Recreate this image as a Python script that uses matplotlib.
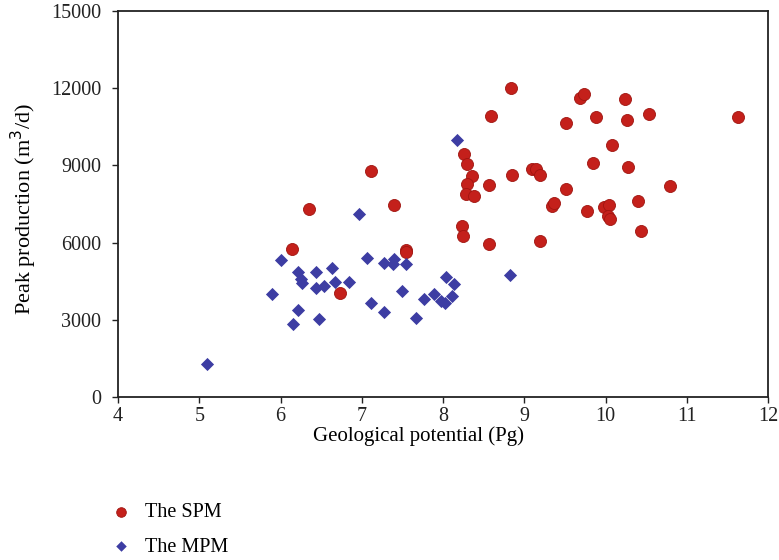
import matplotlib
matplotlib.use("Agg")
import matplotlib.pyplot as plt

# The SPM (red circles)
spm_x = [6.35, 7.40, 6.14, 7.54, 7.54, 6.73, 7.11,
         8.84, 8.59, 9.69, 9.74, 10.24, 9.51, 9.88, 10.26, 10.53, 11.63,
         10.08, 8.26, 8.29, 9.84, 10.28, 8.36, 8.30, 8.28, 8.38, 8.56,
         8.85, 9.10, 9.14, 9.19, 9.51, 10.79, 9.34, 9.36, 9.77, 9.98,
         10.04, 10.03, 10.05, 10.40, 10.44, 8.23, 8.25, 8.56, 9.19]
spm_y = [7306, 7461, 5739, 5712, 5620, 4041, 8782,
         12008, 10908, 11619, 11775, 11580, 10636, 10869, 10778, 11008, 10881,
         9780, 9431, 9054, 9081, 8951, 8588, 8265, 7877, 7811, 8226,
         8614, 8860, 8860, 8614, 8067, 8211, 7422, 7551, 7241, 7395,
         7461, 7046, 6918, 7628, 6463, 6657, 6269, 5934, 6062]

# The MPM (blue diamonds)
mpm_x = [6.97, 6.01, 7.07, 7.27, 7.40, 7.39, 7.54, 6.21, 6.44, 6.63,
         6.25, 6.27, 6.44, 6.53, 6.67, 6.84, 5.89, 7.50, 8.04, 8.14,
         8.11, 7.89, 7.76, 7.97, 8.02, 7.11, 6.22, 7.27, 6.47, 6.15,
         7.67, 5.09, 8.17, 8.82]
mpm_y = [7100, 5336, 5414, 5195, 5349, 5180, 5156, 4870, 4846, 5000,
         4574, 4418, 4249, 4326, 4482, 4482, 4003, 4119, 4676, 4391,
         3937, 3991, 3797, 3731, 3653, 3641, 3393, 3303, 3031, 2849,
         3082, 1271, 9987, 4729]

x_ticks = [4, 5, 6, 7, 8, 9, 10, 11, 12]
y_ticks = [0, 3000, 6000, 9000, 12000, 15000]

plt.rcParams['font.family'] = ['Liberation Serif', 'DejaVu Serif']

fig = plt.figure(figsize=(7.79, 5.60), dpi=100)
ax = fig.add_axes([118/779, 1-397/560, (768-118)/779, (397-11)/560])

ax.scatter(spm_x, spm_y, s=75, marker='o', color='#c4201b',
           edgecolors='#a01510', linewidths=0.6, label='The SPM', zorder=3)
ax.scatter(mpm_x, mpm_y, s=45, marker='D', color='#3d3da3',
           edgecolors='#3d3da3', linewidths=0, label='The MPM', zorder=3)

ax.set_xlim(4, 12)
ax.set_ylim(0, 15000)
ax.set_xticks(x_ticks)
ax.set_yticks(y_ticks)
ax.tick_params(direction='out', length=4, width=1, labelsize=14.5, colors='#222222')
ax.tick_params(axis='y', pad=8)
ax.tick_params(axis='x', pad=3)
for sp in ax.spines.values():
    sp.set_linewidth(1.3)
    sp.set_color('#222222')

ax.set_xlabel('Geological potential (Pg)', fontsize=15, labelpad=0.5)
ax.xaxis.label.set_x(0.463)
ax.set_ylabel('Peak production (m$^3$/d)', fontsize=16, labelpad=9)
ax.yaxis.label.set_y(0.487)

fig.legend(loc='upper left', bbox_to_anchor=(0.130, 0.1014), frameon=False,
           fontsize=14.5, labelspacing=0.75, handletextpad=0.15,
           markerscale=0.8, borderaxespad=0, borderpad=0)

fig.savefig('out.png', dpi=100)
